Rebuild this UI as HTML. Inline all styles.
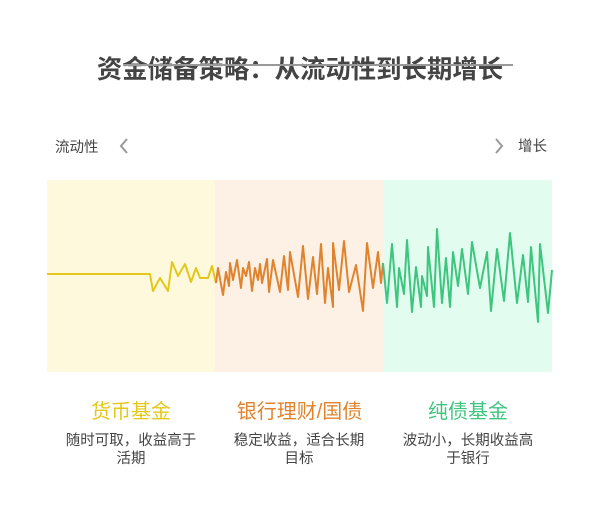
<!DOCTYPE html>
<html><head><meta charset="utf-8"><style>
body{margin:0;width:600px;height:528px;background:#fff;font-family:"Liberation Sans","Noto Sans CJK SC",sans-serif;position:relative;overflow:hidden}
.t{position:absolute;white-space:nowrap}
</style></head><body>
<svg width="600" height="528" style="position:absolute;left:0;top:0">
<rect x="47" y="180" width="168" height="192" fill="#fef9dc"/>
<rect x="215" y="180" width="169" height="192" fill="#fdf0e4"/>
<rect x="384" y="180" width="168" height="192" fill="#e2fdef"/>
<polyline fill="none" stroke="#e3c81a" stroke-width="2" stroke-linejoin="round" points="47,274 150,274 153,291 160,278 168,291 172,262 178,276 185,264 191,282 196,268 200,278 208,278 212,266 216,283"/>
<polyline fill="none" stroke="#e0832e" stroke-width="2" stroke-linejoin="round" points="216,283 218,268 223,295 226,272 229,286 230,263 233,280 237,260 241,288 243,268 246,276 249,262 252,291 255,268 258,280 260,264 262,283 267,259 269,292 273,260 280,292 284,256 288,290 290,252 298,297 303,246 308,299 313,257 317,294 321,244 325,303 328,268 333,307 333,243 339,290 344,241 349,292 356,265 363,311 367,243 373,288 378,252 381,283 383,263"/>
<polyline fill="none" stroke="#3ec57f" stroke-width="2" stroke-linejoin="round" points="383,263 387,303 392,244 397,307 399,268 404,294 407,240 412,312 416,267 421,307 422,276 427,296 428,247 434,307 437,229 442,303 446,258 450,307 453,252 458,286 462,249 468,294 472,242 480,288 487,252 491,311 497,249 504,301 510,233 517,303 523,255 528,302 531,247 538,322 540,244 548,313 552,270"/>
<polyline fill="none" stroke="#999" stroke-width="2" points="127,139 121,146 127,153"/>
<polyline fill="none" stroke="#999" stroke-width="2" points="496,139 502,146 496,153"/>
</svg>
<div class="t" style="left:0;width:600px;text-align:center;top:50px;font-size:25.4px;font-weight:bold;color:#444">资金储备策略：从流动性到长期增长</div>
<div style="position:absolute;left:123px;top:64px;width:390px;height:2px;background:#999"></div>
<div class="t" style="left:55px;top:136px;font-size:14.5px;color:#444">流动性</div>
<div class="t" style="left:518px;top:135px;font-size:14.5px;color:#444">增长</div>
<div class="t" style="left:47px;width:168px;text-align:center;top:395px;font-size:20px;color:#e3c81a">货币基金</div>
<div class="t" style="left:215px;width:169px;text-align:center;top:395px;font-size:20px;color:#e0832e">银行理财/国债</div>
<div class="t" style="left:384px;width:168px;text-align:center;top:395px;font-size:20px;color:#3ec57f">纯债基金</div>
<div style="position:absolute;left:61px;width:140px;text-align:center;top:432px;font-size:14.5px;line-height:18px;color:#444">随时可取，收益高于活期</div>
<div style="position:absolute;left:229px;width:140px;text-align:center;top:432px;font-size:14.5px;line-height:18px;color:#444">稳定收益，适合长期目标</div>
<div style="position:absolute;left:398px;width:140px;text-align:center;top:432px;font-size:14.5px;line-height:18px;color:#444">波动小，长期收益高于银行</div>
</body></html>
